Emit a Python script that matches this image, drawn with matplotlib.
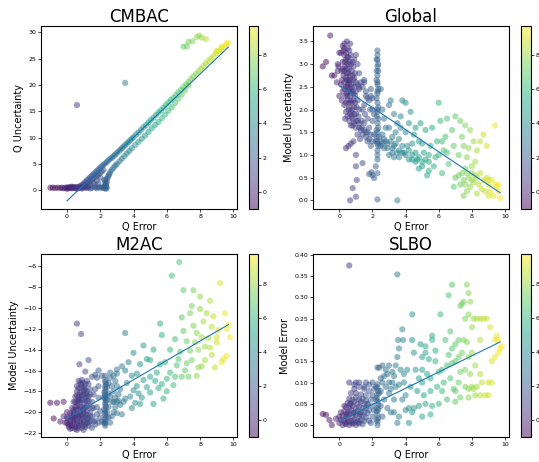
import numpy as np
import matplotlib
matplotlib.use("Agg")
import matplotlib.pyplot as plt

# ---------------- CMBAC: Q error vs Q uncertainty ----------------
cmbac_tail = [(-1.0, 0.5), (-0.85, 0.5), (-0.7, 0.45), (-0.55, 0.5), (-0.4, 0.45), (-0.3, 0.5),
              (-0.2, 0.4), (-0.1, 0.5), (0.0, 0.45), (0.05, 0.6), (0.1, 0.4), (0.15, 0.55),
              (0.2, 0.45), (0.25, 0.6), (0.3, 0.4), (0.35, 0.5), (0.4, 0.6), (0.45, 0.45),
              (0.5, 0.5), (0.55, 0.65), (0.6, 0.4), (0.65, 0.55), (0.7, 0.5), (0.75, 0.7),
              (0.8, 0.45), (0.9, 0.6), (1.0, 0.5), (1.1, 0.55), (1.2, 0.45), (1.3, 0.6),
              (1.5, 0.5), (1.7, 0.55), (1.9, 0.6), (2.0, 0.5), (2.1, 0.55), (2.2, 0.5),
              (0.0, 0.3), (0.3, 0.7), (0.6, 0.3), (0.9, 0.35), (1.4, 0.35), (1.8, 0.4)]
cmbac_upper = [(0.8, 0.8), (0.9, 1.0), (1.0, 1.3), (1.1, 1.6), (1.2, 1.9), (1.3, 2.2), (1.4, 2.5),
               (1.5, 2.8), (1.6, 3.1), (1.7, 3.4), (1.8, 3.7), (1.9, 4.0), (2.0, 4.3), (2.1, 4.6),
               (2.2, 4.9), (2.3, 5.1), (2.4, 5.4), (2.5, 5.7), (2.6, 6.0), (2.7, 6.2), (2.8, 6.5),
               (2.9, 6.8), (3.0, 7.1), (3.1, 7.4), (3.2, 7.7), (3.3, 8.0), (3.4, 8.3), (3.5, 8.6),
               (3.6, 8.9), (3.7, 9.2), (3.8, 9.5), (3.9, 9.8), (4.0, 10.1), (4.15, 10.6),
               (4.3, 11.0), (4.45, 11.5), (4.6, 12.0), (4.75, 12.4), (4.9, 12.9), (5.05, 13.4),
               (5.2, 13.8), (5.35, 14.3), (5.5, 14.8), (5.65, 15.2), (5.8, 15.7), (5.95, 16.2),
               (6.1, 16.7), (6.25, 17.2), (6.4, 17.6), (6.55, 18.1), (6.7, 18.6), (6.85, 19.1),
               (7.0, 19.6), (7.15, 20.1), (7.3, 20.6), (7.45, 21.1), (7.6, 21.6), (7.75, 22.1),
               (7.9, 22.6), (8.05, 23.1), (8.2, 23.6), (8.35, 24.1), (8.5, 24.6), (8.65, 25.0),
               (8.8, 25.5), (8.95, 26.0), (9.1, 26.4), (9.25, 26.8), (9.4, 27.2), (9.55, 27.6),
               (9.7, 28.0), (9.6, 27.9), (9.3, 27.2), (9.0, 26.5),
               (1.0, 0.8), (1.2, 1.2), (1.4, 1.7), (1.6, 2.3), (1.8, 2.8), (2.0, 3.3), (2.2, 3.9),
               (1.1, 1.0), (1.3, 1.5), (1.5, 2.0), (1.7, 2.6), (1.9, 3.0), (2.1, 3.6),
               (1.2, 0.7), (1.4, 1.0), (1.6, 1.4), (1.8, 1.9), (2.0, 2.4), (1.7, 1.0), (1.9, 1.3)]
cmbac_lower = [(2.25, 0.4), (2.3, 0.6), (2.35, 0.8), (2.3, 1.0), (2.35, 1.3), (2.4, 1.6), (2.3, 1.9),
               (2.4, 2.2), (2.45, 2.5), (2.5, 2.8), (2.55, 3.1), (2.6, 3.5), (2.7, 3.9), (2.8, 4.3),
               (2.9, 4.7), (3.0, 5.0), (3.15, 5.5), (3.3, 6.0), (3.45, 6.5), (3.6, 7.0), (3.75, 7.5),
               (3.9, 8.0), (4.1, 8.6), (4.3, 9.2), (4.5, 9.8), (4.7, 10.4), (4.9, 11.1), (5.1, 11.8),
               (5.3, 12.4), (5.5, 13.0), (5.7, 13.7), (5.9, 14.4), (6.1, 15.1), (6.3, 15.8),
               (6.5, 16.6), (6.7, 17.4), (6.9, 18.2), (7.1, 19.0), (7.3, 19.9), (2.2, 0.6),
               (2.4, 0.5), (2.3, 1.4), (2.25, 2.0), (2.35, 0.3)]
cmbac_outliers = [(0.6, 16.2), (3.5, 20.4), (7.0, 27.3), (7.2, 27.3), (7.3, 28.2), (7.55, 28.3),
                  (7.8, 29.1), (7.95, 29.4), (8.1, 29.0), (8.35, 28.7)]
cmbac_fit = (3.01, -2.0)

# ---------------- Global: Q error vs model uncertainty ----------------
global_pts = [(-1.0, 2.95), (-0.8, 3.05), (-0.55, 3.63), (-0.45, 2.75), (-0.3, 2.75), (-0.15, 2.6),
              (-0.1, 3.0), (-0.1, 2.85), (0.0, 2.3), (0.0, 3.25), (-0.05, 2.95),
              (0.1, 3.25), (0.2, 3.4), (0.3, 3.45), (0.45, 3.5), (0.5, 3.35), (0.3, 3.2), (0.6, 3.3),
              (0.7, 3.2), (0.4, 3.1), (0.2, 3.05), (0.5, 3.0), (0.8, 3.05), (0.9, 3.1), (1.0, 3.2),
              (0.35, 2.95), (0.6, 2.9), (0.15, 2.85), (0.75, 2.85), (0.45, 2.8), (0.25, 2.75),
              (0.65, 2.75), (0.95, 2.8), (0.55, 2.65), (0.3, 2.6), (0.85, 2.65), (0.1, 2.55),
              (0.4, 2.5), (0.7, 2.55), (1.0, 2.6), (0.2, 2.4), (0.55, 2.4), (0.8, 2.4), (0.35, 2.3),
              (0.65, 2.3), (0.95, 2.3), (0.15, 2.2), (0.5, 2.2), (0.75, 2.15), (1.1, 2.2), (0.3, 2.1),
              (0.6, 2.05), (0.9, 2.05), (0.4, 1.95), (0.7, 1.95), (1.0, 1.9), (0.5, 1.85), (0.8, 1.8),
              (1.15, 1.85), (0.6, 1.75), (0.9, 1.7), (1.2, 1.7), (0.35, 1.8), (0.7, 1.65), (1.0, 1.6),
              (1.3, 1.55), (1.1, 1.45), (1.4, 1.45), (1.25, 1.35), (0.25, 3.3), (0.55, 3.15),
              (0.65, 3.45), (0.85, 2.95), (0.45, 2.65), (0.2, 2.9), (0.6, 2.6), (0.3, 2.45),
              (0.5, 2.5), (0.9, 2.5), (0.7, 2.4), (0.4, 2.15), (0.85, 2.2), (0.55, 2.0), (0.75, 1.85),
              (0.45, 2.35), (1.2, 2.0), (1.0, 2.4), (1.1, 3.0), (1.2, 2.8), (1.3, 2.6), (0.15, 2.65),
              (1.5, 2.65), (1.6, 2.4), (1.2, 2.5),
              (0.3, 3.35), (0.4, 3.25), (0.5, 3.15), (0.35, 3.05), (0.6, 3.05), (0.45, 2.9),
              (0.7, 3.0), (0.3, 2.85), (0.55, 2.8), (0.8, 2.75), (0.4, 2.7), (0.65, 2.65), (0.9, 2.7),
              (0.5, 2.55), (0.75, 2.5), (0.6, 2.45), (0.85, 2.35), (0.5, 2.3), (0.7, 2.2), (0.95, 2.15),
              (0.6, 2.15), (0.8, 2.0), (1.05, 2.05), (0.65, 1.9), (0.9, 1.9), (1.1, 1.75), (0.8, 1.65),
              (1.0, 1.75), (1.2, 1.6), (1.35, 1.6), (1.5, 1.55), (1.6, 1.4), (1.7, 1.5), (1.8, 1.35),
              (1.9, 1.45), (2.0, 1.3), (2.1, 1.45), (2.2, 1.3), (1.7, 1.3), (1.9, 1.2), (2.4, 1.4),
              (2.1, 1.9), (2.0, 2.0),
              (0.4, 1.15), (0.55, 1.2), (0.7, 1.25), (0.85, 1.3), (1.0, 1.0), (1.0, 0.75), (1.05, 0.45),
              (0.8, 0.27), (0.65, 0.0), (1.0, 0.08), (1.4, 0.82), (1.8, 0.58), (1.95, 0.62),
              (2.0, 0.55), (2.1, 0.49), (2.3, 0.02), (3.5, 0.0), (2.2, 0.75), (2.3, 0.9), (2.3, 0.6),
              (2.3, 3.3), (2.3, 3.2), (2.25, 3.1), (2.3, 2.95), (2.35, 2.85), (2.3, 2.75), (2.25, 2.65),
              (2.3, 2.55), (2.35, 2.45), (2.3, 2.35), (2.25, 2.25), (2.3, 2.15), (2.35, 2.05),
              (2.3, 1.95), (2.25, 1.85), (2.3, 1.7), (2.35, 1.6), (2.3, 1.5), (2.25, 1.4), (2.3, 1.3),
              (2.35, 1.2), (2.3, 1.1), (2.3, 1.0), (2.35, 3.0), (2.3, 2.6), (2.3, 2.0), (2.35, 1.8),
              (2.25, 1.55), (2.3, 1.25), (2.3, 2.4), (2.25, 2.85), (2.3, 3.1),
              (1.5, 2.1), (1.6, 2.3), (1.7, 2.25), (1.8, 2.2), (1.9, 2.3), (2.0, 2.25), (1.9, 2.45),
              (1.85, 2.0), (1.7, 1.8), (1.5, 1.7), (1.6, 1.5), (1.8, 1.6), (2.0, 1.75), (1.55, 1.9),
              (1.4, 2.0), (1.35, 1.75), (1.2, 2.45), (1.4, 2.5), (1.1, 2.55), (1.5, 2.6),
              (2.5, 2.45), (2.6, 2.0), (2.7, 1.8), (2.8, 1.6), (2.5, 1.3), (2.7, 1.15), (2.9, 1.25),
              (3.0, 2.1), (3.1, 2.2), (3.2, 1.4), (3.3, 1.9), (3.4, 1.25), (3.5, 1.7), (3.6, 1.1),
              (3.7, 1.85), (3.8, 2.2), (3.9, 1.05), (4.0, 2.15), (4.0, 1.5), (4.1, 1.2), (4.2, 1.7),
              (4.2, 0.9), (4.3, 1.95), (4.4, 1.0), (4.5, 1.45), (4.6, 1.05), (4.7, 0.9), (4.8, 1.3),
              (4.9, 1.7), (5.0, 0.85), (5.1, 1.05), (5.2, 1.55), (5.3, 0.55), (5.4, 0.85), (5.5, 1.2),
              (5.6, 1.6), (5.8, 0.95), (5.9, 1.3), (6.0, 2.15), (6.1, 1.75), (6.2, 0.6), (6.3, 1.1),
              (6.4, 1.4), (6.5, 1.8), (6.6, 0.8), (6.8, 1.55), (6.9, 1.2), (7.0, 1.85), (7.2, 1.0),
              (7.3, 1.75), (7.4, 1.4), (7.5, 1.2), (7.6, 1.65), (7.7, 0.95), (7.8, 1.15), (7.9, 1.55),
              (8.0, 0.6), (8.1, 1.3), (8.2, 0.85), (8.3, 1.1), (8.5, 1.3), (8.7, 1.45), (8.9, 1.2),
              (9.0, 0.45), (9.4, 1.65), (2.6, 1.45), (2.8, 1.3), (3.0, 1.6), (3.2, 1.15), (3.4, 1.5),
              (3.6, 1.35), (3.8, 1.2), (4.4, 1.25), (4.6, 1.6), (5.0, 1.25), (5.4, 1.0), (5.7, 0.75),
              (6.0, 1.0), (6.2, 1.3), (6.5, 1.05), (3.0, 1.0), (3.3, 0.95), (3.7, 1.6), (4.8, 0.7),
              (2.5, 1.2), (2.6, 1.25), (2.7, 1.35), (2.9, 1.15), (3.1, 1.3), (3.2, 1.05), (3.3, 1.2),
              (3.5, 1.05), (3.6, 0.95), (3.8, 1.05), (4.0, 1.0), (4.2, 1.1), (4.4, 0.9), (4.6, 0.85),
              (4.8, 0.95), (5.0, 0.75), (5.2, 0.9), (5.4, 0.65),
              (6.9, 0.3), (7.0, 0.5), (7.2, 0.55), (7.3, 0.35), (7.4, 0.6), (7.5, 0.45), (7.6, 0.7),
              (7.7, 0.2), (7.8, 0.5), (7.9, 0.3), (8.0, 0.75), (8.1, 0.4), (8.2, 0.55), (8.3, 0.15),
              (8.4, 0.35), (8.5, 0.6), (8.6, 0.25), (8.7, 0.45), (8.8, 0.2), (9.0, 0.35), (9.1, 0.2),
              (9.2, 0.45), (9.3, 0.1), (9.4, 0.35), (9.5, 0.3), (9.6, 0.2), (9.7, 0.05), (9.6, 0.35),
              (9.0, 0.1), (8.9, 0.5), (7.5, 0.1), (7.7, 0.6), (8.0, 0.45), (8.3, 0.5), (7.6, 0.35)]
global_fit = (-0.2433, 2.53)

# ---------------- M2AC: Q error vs model uncertainty ----------------
m2ac_pts = [(-1.0, -19.1), (-0.8, -20.6), (-0.6, -19.1), (-0.4, -20.9), (-0.2, -19.0), (-0.2, -20.4),
            (0.0, -20.0), (0.6, -11.5), (0.85, -12.5), (0.75, -15.4), (1.3, -15.0), (1.1, -16.1),
            (0.1, -21.4), (0.3, -21.5), (0.5, -21.6), (0.7, -21.5), (0.9, -21.5), (1.1, -21.4),
            (1.3, -21.3), (0.0, -21.0), (0.2, -21.1), (0.4, -21.0), (0.6, -21.2), (0.8, -21.0),
            (1.0, -21.1), (1.2, -21.0), (1.4, -20.9), (0.1, -20.6), (0.3, -20.5), (0.5, -20.7),
            (0.7, -20.5), (0.9, -20.6), (1.1, -20.5), (1.3, -20.6), (1.5, -20.4), (0.2, -20.1),
            (0.4, -20.0), (0.6, -20.2), (0.8, -20.0), (1.0, -20.1), (1.2, -19.9), (1.4, -20.0),
            (0.3, -19.6), (0.5, -19.5), (0.7, -19.7), (0.9, -19.5), (1.1, -19.6), (1.3, -19.4),
            (1.6, -19.6), (0.4, -19.0), (0.6, -19.1), (0.8, -19.0), (1.0, -19.2), (1.2, -18.9),
            (1.5, -19.0), (0.5, -18.5), (0.7, -18.6), (0.9, -18.4), (1.1, -18.6), (1.3, -18.5),
            (0.6, -18.0), (0.8, -18.1), (1.0, -17.9), (1.2, -18.0), (1.4, -17.8), (0.6, -17.5),
            (0.85, -17.4), (1.05, -17.6), (1.3, -17.3), (0.7, -17.0), (0.9, -16.9), (1.2, -17.0),
            (1.5, -16.6), (1.7, -16.4), (1.9, -16.0), (1.8, -16.7), (0.0, -20.5), (-0.1, -21.0),
            (1.5, -21.5), (1.7, -20.8), (1.8, -20.2), (1.6, -18.3), (1.7, -17.8), (1.9, -18.6),
            (0.2, -21.6), (0.6, -21.7), (1.0, -21.7), (0.4, -20.4), (0.8, -20.3), (1.2, -20.3),
            (0.55, -19.8), (0.95, -19.8), (0.75, -18.8), (1.15, -18.2), (0.95, -17.2),
            (0.1, -21.2), (0.3, -21.3), (0.5, -21.4), (0.7, -21.3), (0.9, -21.2), (1.1, -21.2),
            (1.3, -21.0), (0.2, -20.8), (0.4, -20.8), (0.6, -20.9), (0.8, -20.8), (1.0, -20.8),
            (1.2, -20.7), (0.3, -20.3), (0.5, -20.4), (0.7, -20.3), (0.9, -20.3), (1.1, -20.2),
            (0.4, -19.8), (0.6, -19.4), (0.8, -19.5), (1.0, -19.7), (1.2, -19.4), (0.5, -19.0),
            (0.7, -18.9), (0.9, -18.8), (1.1, -18.9), (1.3, -18.9), (0.6, -18.4), (0.8, -18.3),
            (1.0, -18.3), (1.2, -18.4), (0.7, -17.7), (0.9, -17.7), (1.1, -17.8), (0.8, -17.2),
            (1.1, -17.3), (1.4, -18.3), (1.5, -19.6), (1.4, -20.4), (1.6, -20.9), (1.9, -21.0),
            (2.0, -19.9), (2.1, -20.9),
            (2.3, -21.3), (2.3, -20.9), (2.35, -20.5), (2.3, -20.1), (2.25, -19.7), (2.3, -19.3),
            (2.35, -18.9), (2.3, -18.5), (2.25, -18.1), (2.3, -17.7), (2.35, -17.3), (2.3, -16.9),
            (2.3, -16.5), (2.25, -21.0), (2.35, -19.5), (2.3, -18.0), (2.3, -21.1), (2.3, -20.7),
            (2.3, -20.3), (2.3, -19.9), (2.3, -19.1), (2.3, -18.7), (2.3, -18.3), (2.3, -17.5),
            (2.3, -17.1), (2.4, -20.0), (2.4, -18.8), (2.4, -17.6),
            (2.5, -17.2), (2.6, -16.2), (2.5, -19.5), (2.6, -18.5), (2.7, -19.0), (2.8, -18.0),
            (2.9, -18.6), (3.0, -17.5), (3.1, -18.3), (2.5, -20.5), (2.9, -19.5), (3.2, -19.3),
            (3.4, -19.0), (2.6, -16.7), (3.0, -15.9), (2.0, -20.5), (1.8, -19.5), (1.7, -21.2),
            (1.9, -17.5), (2.1, -16.5), (2.2, -18.6), (2.8, -20.0), (2.6, -21.0), (3.3, -20.2),
            (2.7, -17.5), (4.1, -19.1), (2.5, -18.2), (2.7, -20.4), (2.8, -19.0), (3.0, -20.1),
            (3.1, -18.9), (2.9, -17.0), (2.8, -16.5),
            (3.5, -12.4), (3.7, -15.2), (3.9, -16.5), (4.2, -17.5), (3.5, -16.0), (3.3, -15.6),
            (3.0, -16.3), (3.2, -17.8), (3.0, -19.0), (3.5, -18.7), (3.8, -18.5), (4.3, -18.2),
            (4.4, -19.2), (5.0, -18.1), (5.2, -19.2), (5.5, -17.7), (5.8, -18.7), (6.0, -18.0),
            (4.0, -14.3), (4.4, -15.4), (4.6, -13.6), (4.8, -14.9), (5.0, -15.0), (5.2, -14.0),
            (5.0, -16.6), (4.6, -16.9), (4.0, -17.9), (3.6, -17.2), (4.2, -16.3), (4.8, -17.6),
            (5.4, -16.2), (5.6, -15.4), (5.3, -17.0), (4.5, -18.6), (3.9, -19.6), (5.6, -11.5),
            (5.7, -12.6), (6.2, -14.0), (6.5, -13.0), (6.6, -15.5), (6.0, -16.8), (5.7, -17.3),
            (6.2, -16.2), (6.4, -17.4), (5.9, -15.2), (6.8, -14.2), (6.3, -6.9), (6.75, -5.6),
            (7.0, -8.3), (7.6, -8.3), (8.0, -8.9), (8.6, -9.3), (9.2, -7.6), (9.5, -10.5),
            (9.6, -12.0), (9.8, -12.8), (9.6, -14.6), (9.3, -15.2), (9.1, -12.1), (8.7, -11.8),
            (9.0, -13.3), (8.4, -10.5), (7.4, -10.5), (6.9, -10.9), (7.6, -11.7), (8.2, -11.3),
            (7.8, -12.4), (7.2, -13.2), (7.9, -14.0), (8.3, -13.7), (8.7, -14.5), (8.9, -15.7),
            (8.1, -15.6), (7.5, -15.0), (7.1, -16.0), (6.9, -16.6), (7.3, -16.6), (6.5, -16.6),
            (7.8, -16.5), (9.0, -12.8), (7.0, -12.2), (7.4, -14.1), (8.0, -10.1), (8.5, -12.9),
            (7.7, -13.3), (8.3, -15.0), (7.2, -15.3), (9.4, -14.9), (8.8, -10.8), (7.5, -9.8),
            (8.1, -12.8), (6.7, -14.9), (9.7, -11.6), (8.6, -13.8), (7.9, -15.7)]
m2ac_fit = (0.928, -20.6)

# ---------------- SLBO: Q error vs model error ----------------
slbo_pts = [(0.6, 0.375), (3.5, 0.354), (-1.0, 0.026), (-0.8, 0.024), (-0.6, 0.012), (-0.45, 0.0),
            (-0.2, 0.015),
            (0.0, 0.005), (0.2, 0.0), (0.4, 0.002), (0.6, 0.0), (0.8, 0.003), (1.0, 0.0), (1.2, 0.004),
            (1.4, 0.002), (0.1, 0.012), (0.3, 0.01), (0.5, 0.015), (0.7, 0.01), (0.9, 0.013),
            (1.1, 0.01), (1.3, 0.012), (1.5, 0.01), (0.2, 0.022), (0.4, 0.02), (0.6, 0.025),
            (0.8, 0.02), (1.0, 0.024), (1.2, 0.02), (1.4, 0.022), (1.6, 0.018), (0.3, 0.032),
            (0.5, 0.03), (0.7, 0.035), (0.9, 0.03), (1.1, 0.033), (1.3, 0.03), (1.5, 0.03),
            (1.7, 0.028), (0.4, 0.042), (0.6, 0.04), (0.8, 0.045), (1.0, 0.04), (1.2, 0.043),
            (1.4, 0.04), (1.6, 0.04), (1.8, 0.035), (0.5, 0.052), (0.7, 0.05), (0.9, 0.055),
            (1.1, 0.05), (1.3, 0.055), (1.5, 0.05), (1.7, 0.048), (2.0, 0.045), (0.6, 0.062),
            (0.8, 0.06), (1.0, 0.065), (1.2, 0.06), (1.4, 0.062), (1.6, 0.058), (1.9, 0.06),
            (0.7, 0.075), (1.0, 0.075), (1.3, 0.072), (1.6, 0.07), (2.0, 0.07), (2.2, 0.06),
            (1.8, 0.01), (2.0, 0.02), (1.9, 0.005), (2.1, 0.035), (1.7, 0.05), (0.1, 0.03),
            (0.0, 0.02), (0.3, 0.045), (0.35, 0.005), (0.75, 0.005), (1.15, 0.006), (0.55, 0.008),
            (0.95, 0.007), (0.45, 0.026), (0.85, 0.028), (1.25, 0.026), (0.65, 0.05),
            (2.3, 0.0), (2.3, 0.008), (2.35, 0.016), (2.3, 0.024), (2.25, 0.032), (2.3, 0.04),
            (2.35, 0.048), (2.3, 0.056), (2.25, 0.064), (2.3, 0.072), (2.35, 0.08), (2.3, 0.088),
            (2.3, 0.096), (2.25, 0.012), (2.35, 0.036),
            (2.6, 0.02), (2.7, 0.06), (2.8, 0.09), (2.9, 0.04), (3.0, 0.075), (3.1, 0.03), (3.2, 0.1),
            (3.3, 0.06), (2.5, 0.08), (2.6, 0.1), (2.7, 0.115), (3.0, 0.1), (2.9, 0.12), (2.4, 0.075),
            (2.5, 0.045), (3.4, 0.09), (3.1, 0.085), (1.8, 0.095), (1.5, 0.085), (1.2, 0.09),
            (1.0, 0.1), (0.9, 0.085), (2.1, 0.085), (2.0, 0.1), (1.6, 0.1), (3.6, 0.095), (3.8, 0.06),
            (3.3, 0.03), (4.0, 0.035), (3.9, 0.12),
            (0.6, 0.1), (0.9, 0.095), (1.2, 0.1), (1.5, 0.09), (1.8, 0.08), (2.2, 0.09), (2.5, 0.11),
            (2.3, 0.135), (2.4, 0.135), (2.6, 0.14), (2.8, 0.13), (3.0, 0.14), (3.2, 0.125),
            (3.3, 0.115), (3.4, 0.14), (3.5, 0.16), (3.55, 0.2), (3.6, 0.18), (3.8, 0.225),
            (3.85, 0.2), (4.4, 0.26), (4.4, 0.2), (3.9, 0.1), (3.7, 0.13), (4.0, 0.07), (4.2, 0.04),
            (4.1, 0.13), (4.6, 0.13), (4.8, 0.11), (5.0, 0.13), (5.0, 0.1), (5.1, 0.07), (4.8, 0.045),
            (4.5, 0.04), (4.4, 0.03), (4.2, 0.005), (3.5, 0.005), (3.6, 0.02), (5.0, 0.16),
            (5.2, 0.185), (5.2, 0.17), (5.4, 0.155), (5.5, 0.11), (5.6, 0.21), (5.6, 0.2), (5.8, 0.15),
            (6.0, 0.125), (6.1, 0.26), (5.9, 0.09), (5.5, 0.08), (5.6, 0.045), (5.5, 0.025),
            (5.0, 0.02), (5.2, 0.05), (6.2, 0.08), (6.0, 0.05), (6.3, 0.1), (6.4, 0.2), (6.5, 0.06),
            (6.6, 0.305), (6.7, 0.22), (6.8, 0.33), (6.8, 0.18), (6.7, 0.11), (6.9, 0.085),
            (7.0, 0.15), (7.0, 0.08), (7.0, 0.055), (7.2, 0.16), (7.3, 0.28), (7.4, 0.285),
            (7.5, 0.29), (7.7, 0.33), (7.8, 0.31), (7.9, 0.29), (7.6, 0.25), (7.8, 0.26), (8.0, 0.23),
            (8.1, 0.25), (8.3, 0.25), (8.5, 0.25), (8.7, 0.25), (7.5, 0.2), (7.7, 0.195), (7.2, 0.2),
            (7.4, 0.17), (7.8, 0.16), (8.0, 0.17), (8.2, 0.14), (8.5, 0.12), (7.6, 0.13), (7.3, 0.125),
            (7.2, 0.1), (7.6, 0.09), (7.8, 0.085), (8.0, 0.09), (8.1, 0.085), (8.3, 0.09), (8.6, 0.1),
            (8.5, 0.07), (8.8, 0.07), (9.0, 0.07), (7.3, 0.065), (7.8, 0.065), (8.2, 0.07),
            (7.9, 0.12), (9.1, 0.23), (9.4, 0.2), (9.5, 0.21), (9.6, 0.2), (9.7, 0.18), (9.8, 0.185),
            (9.6, 0.17), (9.4, 0.16), (9.0, 0.1), (9.2, 0.1), (9.2, 0.15), (8.5, 0.2), (8.9, 0.25),
            (7.0, 0.19), (6.5, 0.14), (6.8, 0.145), (4.3, 0.09), (4.7, 0.08), (5.3, 0.12),
            (5.8, 0.175), (6.2, 0.13), (6.6, 0.165), (4.5, 0.17), (4.9, 0.19)]
slbo_fit = (0.0191, 0.01)

panels = [
    ("CMBAC", "Q Uncertainty", cmbac_tail + cmbac_upper + cmbac_lower + cmbac_outliers, cmbac_fit,
     (-1.56, 10.22), (-3.54, 31.2)),
    ("Global", "Model Uncertainty", global_pts, global_fit, (-1.59, 10.24), (-0.19, 3.84)),
    ("M2AC", "Model Uncertainty", m2ac_pts, m2ac_fit, (-1.56, 10.22), (-22.38, -4.82)),
    ("SLBO", "Model Error", slbo_pts, slbo_fit, (-1.59, 10.24), (-0.028, 0.402)),
]
cbar_ticks = [0, 2, 4, 6, 8]
fit_x = [0.0, 9.7]

W, H = 539, 462
fig = plt.figure(figsize=(W / 100, H / 100), dpi=100)

# pixel boxes (left, top, right, bottom) for each axes and its colorbar
ax_boxes = [(41, 26, 237, 209), (313, 26, 509, 209), (41, 254, 237, 437), (313, 254, 509, 437)]
cb_boxes = [(249, 26, 258, 209), (521, 26, 531, 209), (249, 254, 258, 437), (521, 254, 531, 437)]


def to_rect(box):
    l, t, r, b = box
    return [l / W, 1 - b / H, (r - l) / W, (b - t) / H]


for (title, ylabel, pts, fit, xlim, ylim), abox, cbox in zip(panels, ax_boxes, cb_boxes):
    ax = fig.add_axes(to_rect(abox))
    cax = fig.add_axes(to_rect(cbox))
    xs = np.array([p[0] for p in pts])
    ys = np.array([p[1] for p in pts])
    sc = ax.scatter(xs, ys, c=xs, cmap="viridis", s=20, alpha=0.5, linewidths=0)
    slope, intercept = fit
    ax.plot(fit_x, [slope * x + intercept for x in fit_x], color="#1f77b4", lw=0.8)
    ax.set_xlim(*xlim)
    ax.set_ylim(*ylim)
    ax.set_title(title, fontsize=12, pad=3)
    ax.set_xlabel("Q Error", fontsize=7, labelpad=2)
    ax.set_ylabel(ylabel, fontsize=7, labelpad=3)
    ax.set_xticks([0, 2, 4, 6, 8, 10])
    ax.tick_params(labelsize=4.5, length=2, width=0.5, pad=1.5)
    cb = fig.colorbar(sc, cax=cax, ticks=cbar_ticks)
    cb.ax.tick_params(labelsize=4.5, length=2, width=0.5, pad=1.5)
    cb.outline.set_linewidth(0.8)

fig.savefig("out.png", dpi=100)
